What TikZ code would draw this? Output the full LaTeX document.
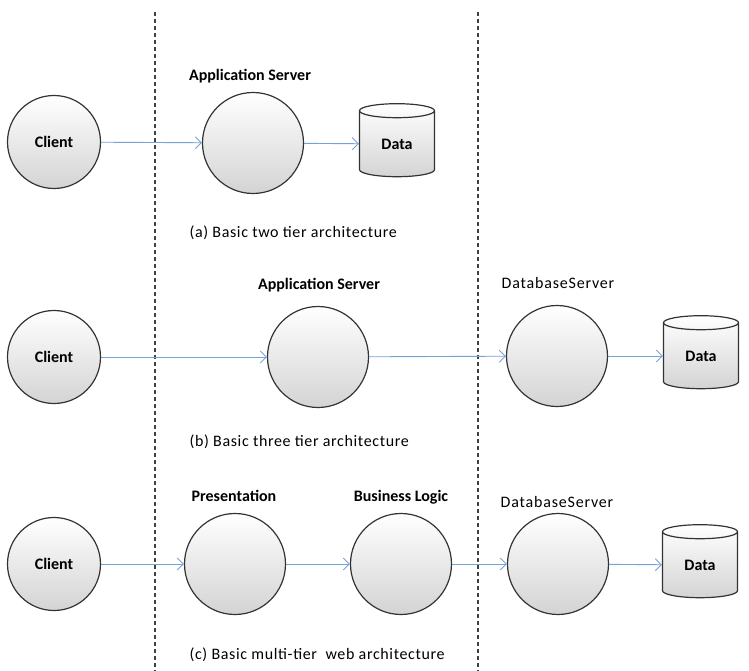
\documentclass[tikz,border=0pt]{standalone}
\usepackage{fontspec}
\setmainfont{Carlito}
\usepackage{tikz}
\usetikzlibrary{positioning,arrows.meta,shapes.geometric}
\definecolor{flowblue}{RGB}{118,162,216}
\tikzset{
  tierball/.style={circle, draw=black!80, line width=1.2pt,
    top color=white, bottom color=black!17, minimum size=101pt,
    inner sep=0pt, font=\bfseries\fontsize{16}{18}\selectfont},
  clientball/.style={tierball, minimum size=93pt},
  datacyl/.style={cylinder, shape border rotate=90, aspect=0.45,
    draw=black!80, line width=1.2pt, top color=white, bottom color=black!17,
    minimum width=75pt, minimum height=73pt, inner sep=0pt,
    font=\bfseries\fontsize{16}{18}\selectfont},
  tierlbl/.style={font=\bfseries\fontsize{16}{18}\selectfont, text depth=0pt},
  dblbl/.style={font=\fontsize{16}{18}\selectfont\addfontfeatures{LetterSpace=5},
    text depth=0pt},
  captlbl/.style={anchor=west,
    font=\fontsize{16}{18}\selectfont\addfontfeatures{LetterSpace=4}},
  flowarr/.style={draw=flowblue, line width=0.9pt,
    -{Straight Barb[length=6pt,width=12pt]}},
  tierline/.style={draw=black!75, line width=1.2pt, dash pattern=on 4pt off 3pt},
}
\begin{document}
\begin{tikzpicture}[x=1pt, y=1pt]
  \useasboundingbox (0,0) rectangle (749,-671);
  % Tier boundaries
  \coordinate (b1top) at (155,-12);
  \coordinate (b1bot) at (155,-671);
  \coordinate (b2top) at (478,-12);
  \coordinate (b2bot) at (478,-671);
  \draw[tierline] (b1top) -- (b1bot);
  \draw[tierline] (b2top) -- (b2bot);
  % Row a
  \node[clientball] at (54,-142) (CliA) {Client};
  \node[tierball] at (253,-143) (AppA) {};
  \node[datacyl] at (397,-144) (DatA) {Data};
  \node[tierlbl] at (250,-75) (AppAl) {Application Server};
  \node[captlbl] at (186,-233) (CapA) {(a) Basic two tier architecture};
  % Row b
  \node[clientball] at (54,-357) (CliB) {Client};
  \node[tierball] at (318,-357) (AppB) {};
  \node[tierball] at (557,-356) (DbB) {};
  \node[datacyl] at (701,-356) (DatB) {Data};
  \node[tierlbl] at (319,-284) (AppBl) {Application Server};
  \node[dblbl] at (558,-283) (DbBl) {DatabaseServer};
  \node[captlbl] at (186,-442) (CapB) {(b) Basic three tier architecture};
  % Row c
  \node[clientball] at (54,-564) (CliC) {Client};
  \node[tierball] at (235,-564) (PreC) {};
  \node[tierball] at (401,-564) (BusC) {};
  \node[tierball] at (558,-564) (DbC) {};
  \node[datacyl] at (700,-565) (DatC) {Data};
  \node[tierlbl] at (234,-496) (PreCl) {Presentation};
  \node[tierlbl] at (401,-496) (BusCl) {Business Logic};
  \node[dblbl] at (557,-502) (DbCl) {DatabaseServer};
  \node[captlbl] at (186,-655) (CapC) {(c) Basic multi-tier\ \ web architecture};
  % Flows
  \draw[flowarr] (CliA) -- (AppA);
  \draw[flowarr] (AppA) -- (DatA);
  \draw[flowarr] (CliB) -- (AppB);
  \draw[flowarr] (AppB) -- (DbB);
  \draw[flowarr] (DbB)  -- (DatB);
  \draw[flowarr] (CliC) -- (PreC);
  \draw[flowarr] (PreC) -- (BusC);
  \draw[flowarr] (BusC) -- (DbC);
  \draw[flowarr] (DbC)  -- (DatC);
\end{tikzpicture}
\end{document}
